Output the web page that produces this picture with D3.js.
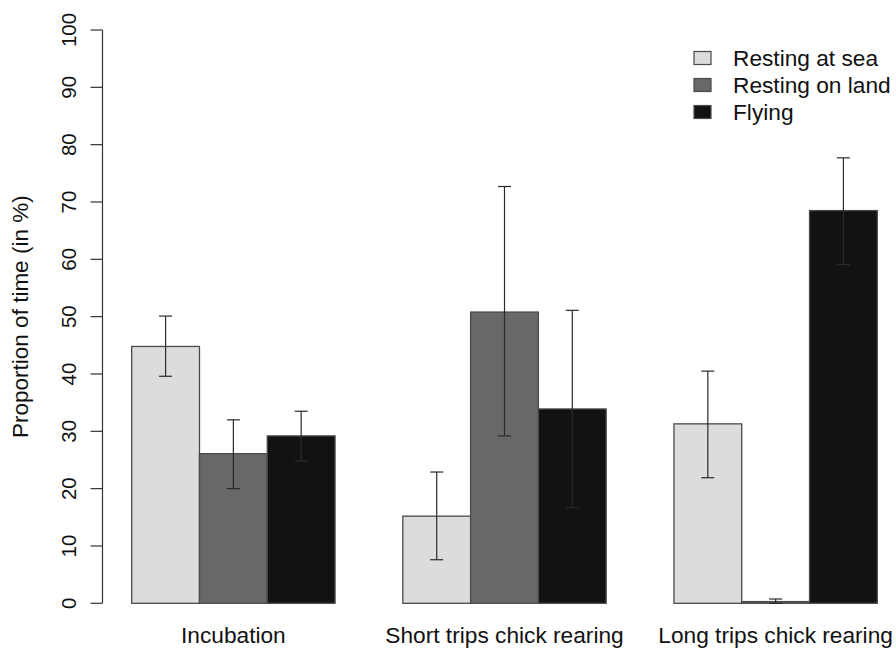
<!DOCTYPE html>
<html>
<head>
<meta charset="utf-8">
<script src="https://cdn.jsdelivr.net/npm/d3@7"></script>
<style>
  body { margin: 0; background: #fff; }
  text { font-family: "Liberation Sans", Arial, sans-serif; fill: #111; }
</style>
</head>
<body>
<svg id="chart" width="896" height="652"></svg>
<script>
const categories = ["Incubation", "Short trips chick rearing", "Long trips chick rearing"];
const series = ["Resting at sea", "Resting on land", "Flying"];
const colors = ["#dcdcdc", "#686868", "#121212"];

// mean, lower and upper error per category (in %)
const restingSea = [44.8, 15.2, 31.3];
const restingSeaLow = [39.6, 7.6, 21.9];
const restingSeaHigh = [50.1, 22.9, 40.5];
const restingLand = [26.1, 50.8, 0.3];
const restingLandLow = [20.0, 29.2, 0.0];
const restingLandHigh = [32.0, 72.7, 0.75];
const flying = [29.2, 33.9, 68.5];
const flyingLow = [24.8, 16.7, 59.1];
const flyingHigh = [33.5, 51.1, 77.7];

const yTicks = [0, 10, 20, 30, 40, 50, 60, 70, 80, 90, 100];

const values = [restingSea, restingLand, flying];
const lows = [restingSeaLow, restingLandLow, flyingLow];
const highs = [restingSeaHigh, restingLandHigh, flyingHigh];

const svg = d3.select("#chart");

// bar units like R barplot: each group 3 bars plus one bar of space
const x = d3.scaleLinear().domain([1, 12]).range([131.7, 877.3]);
const y = d3.scaleLinear().domain([0, 100]).range([603.3, 30]);

const bars = [];
categories.forEach((c, g) => {
  series.forEach((s, i) => {
    bars.push({ g, i, left: 1 + g * 4 + i, v: values[i][g], lo: lows[i][g], hi: highs[i][g] });
  });
});

svg.selectAll("rect.bar").data(bars).enter().append("rect")
  .attr("class", "bar")
  .attr("x", d => x(d.left))
  .attr("width", d => x(d.left + 1) - x(d.left))
  .attr("y", d => y(d.v))
  .attr("height", d => y(0) - y(d.v))
  .attr("fill", d => colors[d.i])
  .attr("stroke", "#4a4a4a")
  .attr("stroke-width", 1.3);

// error bars
const err = svg.append("g").attr("stroke", "#2a2a2a").attr("stroke-width", 1.2);
bars.forEach(d => {
  const cx = x(d.left + 0.5);
  err.append("line").attr("x1", cx).attr("x2", cx).attr("y1", y(d.lo)).attr("y2", y(d.hi));
  err.append("line").attr("x1", cx - 6.5).attr("x2", cx + 6.5).attr("y1", y(d.lo)).attr("y2", y(d.lo));
  err.append("line").attr("x1", cx - 6.5).attr("x2", cx + 6.5).attr("y1", y(d.hi)).attr("y2", y(d.hi));
});

// y axis
const axisX = 102.5;
const ax = svg.append("g").attr("stroke", "#333").attr("stroke-width", 1.2);
ax.append("line").attr("x1", axisX).attr("x2", axisX).attr("y1", y(0)).attr("y2", y(100));
yTicks.forEach(t => {
  ax.append("line").attr("x1", axisX - 12).attr("x2", axisX).attr("y1", y(t)).attr("y2", y(t));
});
svg.selectAll("text.tick").data(yTicks).enter().append("text")
  .attr("class", "tick")
  .attr("transform", t => `translate(76,${y(t)}) rotate(-90)`)
  .attr("text-anchor", "middle")
  .style("font-size", "20.5px")
  .text(t => t);

svg.append("text")
  .attr("transform", `translate(27.5,${(y(0) + y(100)) / 2}) rotate(-90)`)
  .attr("text-anchor", "middle")
  .style("font-size", "22.5px")
  .text("Proportion of time (in %)");

// category labels
svg.selectAll("text.cat").data(categories).enter().append("text")
  .attr("class", "cat")
  .attr("x", (c, g) => x(1 + g * 4 + 1.5))
  .attr("y", 643)
  .attr("text-anchor", "middle")
  .style("font-size", "22.7px")
  .text(c => c);

// legend
const legend = svg.append("g");
series.forEach((s, i) => {
  const cy = 58 + i * 27;
  legend.append("rect")
    .attr("x", 694).attr("y", cy - 6.5).attr("width", 17).attr("height", 13)
    .attr("fill", colors[i]).attr("stroke", "#4a4a4a").attr("stroke-width", 1.2);
  legend.append("text")
    .attr("x", 733).attr("y", cy + 8)
    .style("font-size", "22.7px")
    .text(s);
});
</script>
</body>
</html>
